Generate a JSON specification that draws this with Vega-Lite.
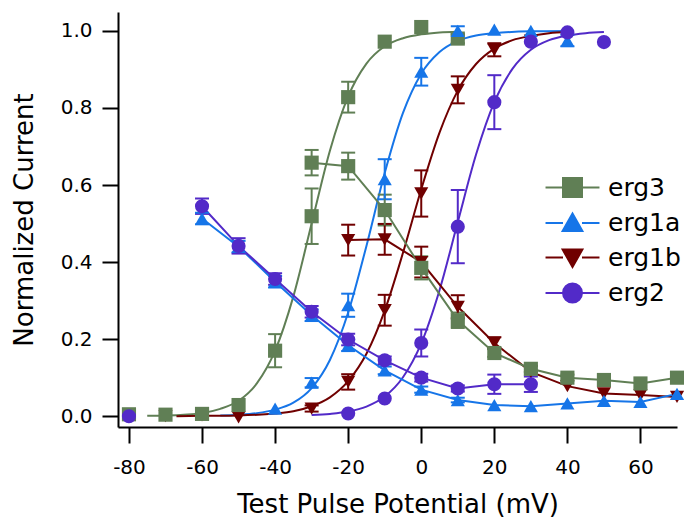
{
  "$schema": "https://vega.github.io/schema/vega-lite/v6.json",
  "width": 559,
  "height": 415,
  "autosize": {"type": "none"},
  "padding": {"left": 118, "top": 12, "right": 7, "bottom": 92},
  "background": "white",
  "config": {
    "view": {"stroke": null},
    "font": "DejaVu Sans",
    "axis": {
      "grid": false,
      "domainColor": "black",
      "domainWidth": 2,
      "tickColor": "black",
      "tickWidth": 2,
      "tickSize": 16,
      "labelFont": "DejaVu Sans",
      "labelFontSize": 20,
      "labelColor": "black",
      "titleFont": "DejaVu Sans",
      "titleFontSize": 26,
      "titleFontWeight": "normal",
      "titleColor": "black"
    },
    "legend": {
      "orient": "none",
      "legendX": 442,
      "legendY": 163,
      "padding": 0,
      "labelFont": "DejaVu Sans",
      "labelFontSize": 25,
      "labelColor": "black",
      "labelOffset": 23,
      "rowPadding": 8.5,
      "symbolSize": 361,
      "symbolStrokeWidth": 2,
      "symbolOpacity": 1
    }
  },
  "datasets": {
    "fits": [
      {"series": "erg3", "v": -75, "i": 0.001}, {"series": "erg3", "v": -70, "i": 0.002},
      {"series": "erg3", "v": -65, "i": 0.004}, {"series": "erg3", "v": -60, "i": 0.008},
      {"series": "erg3", "v": -55, "i": 0.019}, {"series": "erg3", "v": -50, "i": 0.04},
      {"series": "erg3", "v": -45, "i": 0.085}, {"series": "erg3", "v": -40, "i": 0.17},
      {"series": "erg3", "v": -35, "i": 0.311}, {"series": "erg3", "v": -30, "i": 0.5},
      {"series": "erg3", "v": -25, "i": 0.689}, {"series": "erg3", "v": -20, "i": 0.83},
      {"series": "erg3", "v": -15, "i": 0.915}, {"series": "erg3", "v": -10, "i": 0.96},
      {"series": "erg3", "v": -5, "i": 0.981}, {"series": "erg3", "v": 0, "i": 0.991},
      {"series": "erg3", "v": 5, "i": 0.996}, {"series": "erg3", "v": 10, "i": 0.998},

      {"series": "erg1a", "v": -55, "i": 0.002}, {"series": "erg1a", "v": -50, "i": 0.004},
      {"series": "erg1a", "v": -45, "i": 0.008}, {"series": "erg1a", "v": -40, "i": 0.017},
      {"series": "erg1a", "v": -35, "i": 0.035}, {"series": "erg1a", "v": -30, "i": 0.073},
      {"series": "erg1a", "v": -25, "i": 0.146}, {"series": "erg1a", "v": -20, "i": 0.269},
      {"series": "erg1a", "v": -15, "i": 0.442}, {"series": "erg1a", "v": -10, "i": 0.631},
      {"series": "erg1a", "v": -5, "i": 0.787}, {"series": "erg1a", "v": 0, "i": 0.889},
      {"series": "erg1a", "v": 5, "i": 0.945}, {"series": "erg1a", "v": 10, "i": 0.974},
      {"series": "erg1a", "v": 15, "i": 0.988}, {"series": "erg1a", "v": 20, "i": 0.994},
      {"series": "erg1a", "v": 30, "i": 0.999}, {"series": "erg1a", "v": 40, "i": 1.0},

      {"series": "erg1b", "v": -67, "i": 0.0}, {"series": "erg1b", "v": -60, "i": 0.001},
      {"series": "erg1b", "v": -50, "i": 0.002}, {"series": "erg1b", "v": -40, "i": 0.007},
      {"series": "erg1b", "v": -35, "i": 0.013}, {"series": "erg1b", "v": -30, "i": 0.026},
      {"series": "erg1b", "v": -25, "i": 0.049}, {"series": "erg1b", "v": -20, "i": 0.091},
      {"series": "erg1b", "v": -15, "i": 0.162}, {"series": "erg1b", "v": -10, "i": 0.274},
      {"series": "erg1b", "v": -5, "i": 0.424}, {"series": "erg1b", "v": 0, "i": 0.589},
      {"series": "erg1b", "v": 5, "i": 0.736}, {"series": "erg1b", "v": 10, "i": 0.845},
      {"series": "erg1b", "v": 15, "i": 0.914}, {"series": "erg1b", "v": 20, "i": 0.954},
      {"series": "erg1b", "v": 25, "i": 0.976}, {"series": "erg1b", "v": 30, "i": 0.987},
      {"series": "erg1b", "v": 35, "i": 0.994}, {"series": "erg1b", "v": 40, "i": 0.997},

      {"series": "erg2", "v": -30, "i": 0.003}, {"series": "erg2", "v": -25, "i": 0.006},
      {"series": "erg2", "v": -20, "i": 0.012}, {"series": "erg2", "v": -15, "i": 0.025},
      {"series": "erg2", "v": -10, "i": 0.051}, {"series": "erg2", "v": -5, "i": 0.101},
      {"series": "erg2", "v": 0, "i": 0.189}, {"series": "erg2", "v": 5, "i": 0.327},
      {"series": "erg2", "v": 10, "i": 0.504}, {"series": "erg2", "v": 15, "i": 0.679},
      {"series": "erg2", "v": 20, "i": 0.815}, {"series": "erg2", "v": 25, "i": 0.902},
      {"series": "erg2", "v": 30, "i": 0.951}, {"series": "erg2", "v": 35, "i": 0.976},
      {"series": "erg2", "v": 40, "i": 0.988}, {"series": "erg2", "v": 45, "i": 0.994},
      {"series": "erg2", "v": 50, "i": 0.997}
    ],
    "obs": [
      {"series": "erg1b", "set": "act", "v": -80, "i": 0.005, "err": 0},
      {"series": "erg1b", "set": "act", "v": -70, "i": 0.0, "err": 0},
      {"series": "erg1b", "set": "act", "v": -60, "i": 0.002, "err": 0},
      {"series": "erg1b", "set": "act", "v": -50, "i": -0.003, "err": 0},
      {"series": "erg1b", "set": "act", "v": -30, "i": 0.02, "err": 0.008},
      {"series": "erg1b", "set": "act", "v": -20, "i": 0.089, "err": 0.02},
      {"series": "erg1b", "set": "act", "v": -10, "i": 0.275, "err": 0.04},
      {"series": "erg1b", "set": "act", "v": 0, "i": 0.578, "err": 0.06},
      {"series": "erg1b", "set": "act", "v": 10, "i": 0.847, "err": 0.035},
      {"series": "erg1b", "set": "act", "v": 20, "i": 0.951, "err": 0.017},
      {"series": "erg1b", "set": "act", "v": 30, "i": 0.975, "err": 0},
      {"series": "erg1b", "set": "inact", "v": -20, "i": 0.457, "err": 0.04},
      {"series": "erg1b", "set": "inact", "v": -10, "i": 0.459, "err": 0.04},
      {"series": "erg1b", "set": "inact", "v": 0, "i": 0.4, "err": 0.04},
      {"series": "erg1b", "set": "inact", "v": 10, "i": 0.284, "err": 0.03},
      {"series": "erg1b", "set": "inact", "v": 20, "i": 0.19, "err": 0.015},
      {"series": "erg1b", "set": "inact", "v": 30, "i": 0.115, "err": 0},
      {"series": "erg1b", "set": "inact", "v": 40, "i": 0.078, "err": 0},
      {"series": "erg1b", "set": "inact", "v": 50, "i": 0.059, "err": 0},
      {"series": "erg1b", "set": "inact", "v": 60, "i": 0.055, "err": 0},
      {"series": "erg1b", "set": "inact", "v": 70, "i": 0.05, "err": 0},

      {"series": "erg3", "set": "act", "v": -80, "i": 0.005, "err": 0},
      {"series": "erg3", "set": "act", "v": -70, "i": 0.004, "err": 0},
      {"series": "erg3", "set": "act", "v": -60, "i": 0.006, "err": 0},
      {"series": "erg3", "set": "act", "v": -50, "i": 0.029, "err": 0},
      {"series": "erg3", "set": "act", "v": -40, "i": 0.17, "err": 0.043},
      {"series": "erg3", "set": "act", "v": -30, "i": 0.519, "err": 0.072},
      {"series": "erg3", "set": "act", "v": -20, "i": 0.828, "err": 0.04},
      {"series": "erg3", "set": "act", "v": -10, "i": 0.972, "err": 0},
      {"series": "erg3", "set": "act", "v": 0, "i": 1.01, "err": 0},
      {"series": "erg3", "set": "act", "v": 10, "i": 0.98, "err": 0.012},
      {"series": "erg3", "set": "inact", "v": -30, "i": 0.658, "err": 0.033},
      {"series": "erg3", "set": "inact", "v": -20, "i": 0.649, "err": 0.035},
      {"series": "erg3", "set": "inact", "v": -10, "i": 0.535, "err": 0.04},
      {"series": "erg3", "set": "inact", "v": 0, "i": 0.385, "err": 0.03},
      {"series": "erg3", "set": "inact", "v": 10, "i": 0.249, "err": 0.02},
      {"series": "erg3", "set": "inact", "v": 20, "i": 0.164, "err": 0.01},
      {"series": "erg3", "set": "inact", "v": 30, "i": 0.123, "err": 0.008},
      {"series": "erg3", "set": "inact", "v": 40, "i": 0.1, "err": 0.008},
      {"series": "erg3", "set": "inact", "v": 50, "i": 0.094, "err": 0},
      {"series": "erg3", "set": "inact", "v": 60, "i": 0.085, "err": 0},
      {"series": "erg3", "set": "inact", "v": 70, "i": 0.1, "err": 0},

      {"series": "erg1a", "set": "act", "v": -40, "i": 0.02, "err": 0},
      {"series": "erg1a", "set": "act", "v": -30, "i": 0.087, "err": 0.012},
      {"series": "erg1a", "set": "act", "v": -20, "i": 0.288, "err": 0.03},
      {"series": "erg1a", "set": "act", "v": -10, "i": 0.615, "err": 0.052},
      {"series": "erg1a", "set": "act", "v": 0, "i": 0.894, "err": 0.036},
      {"series": "erg1a", "set": "act", "v": 10, "i": 1.0, "err": 0.012},
      {"series": "erg1a", "set": "act", "v": 20, "i": 1.003, "err": 0},
      {"series": "erg1a", "set": "act", "v": 30, "i": 1.0, "err": 0},
      {"series": "erg1a", "set": "act", "v": 40, "i": 0.975, "err": 0.015},
      {"series": "erg1a", "set": "inact", "v": -60, "i": 0.513, "err": 0.015},
      {"series": "erg1a", "set": "inact", "v": -50, "i": 0.44, "err": 0.015},
      {"series": "erg1a", "set": "inact", "v": -40, "i": 0.349, "err": 0.015},
      {"series": "erg1a", "set": "inact", "v": -30, "i": 0.262, "err": 0.015},
      {"series": "erg1a", "set": "inact", "v": -20, "i": 0.184, "err": 0.015},
      {"series": "erg1a", "set": "inact", "v": -10, "i": 0.119, "err": 0.01},
      {"series": "erg1a", "set": "inact", "v": 0, "i": 0.069, "err": 0.008},
      {"series": "erg1a", "set": "inact", "v": 10, "i": 0.042, "err": 0.006},
      {"series": "erg1a", "set": "inact", "v": 20, "i": 0.029, "err": 0},
      {"series": "erg1a", "set": "inact", "v": 30, "i": 0.026, "err": 0},
      {"series": "erg1a", "set": "inact", "v": 40, "i": 0.033, "err": 0},
      {"series": "erg1a", "set": "inact", "v": 50, "i": 0.04, "err": 0},
      {"series": "erg1a", "set": "inact", "v": 60, "i": 0.037, "err": 0},
      {"series": "erg1a", "set": "inact", "v": 70, "i": 0.058, "err": 0},

      {"series": "erg2", "set": "act", "v": -80, "i": 0.0, "err": 0},
      {"series": "erg2", "set": "act", "v": -20, "i": 0.007, "err": 0},
      {"series": "erg2", "set": "act", "v": -10, "i": 0.046, "err": 0},
      {"series": "erg2", "set": "act", "v": 0, "i": 0.19, "err": 0.035},
      {"series": "erg2", "set": "act", "v": 10, "i": 0.492, "err": 0.095},
      {"series": "erg2", "set": "act", "v": 20, "i": 0.815, "err": 0.07},
      {"series": "erg2", "set": "act", "v": 30, "i": 0.972, "err": 0},
      {"series": "erg2", "set": "act", "v": 40, "i": 0.996, "err": 0},
      {"series": "erg2", "set": "act", "v": 50, "i": 0.971, "err": 0},
      {"series": "erg2", "set": "inact", "v": -60, "i": 0.545, "err": 0.02},
      {"series": "erg2", "set": "inact", "v": -50, "i": 0.442, "err": 0.02},
      {"series": "erg2", "set": "inact", "v": -40, "i": 0.356, "err": 0.015},
      {"series": "erg2", "set": "inact", "v": -30, "i": 0.271, "err": 0.015},
      {"series": "erg2", "set": "inact", "v": -20, "i": 0.199, "err": 0.015},
      {"series": "erg2", "set": "inact", "v": -10, "i": 0.145, "err": 0.01},
      {"series": "erg2", "set": "inact", "v": 0, "i": 0.1, "err": 0.01},
      {"series": "erg2", "set": "inact", "v": 10, "i": 0.072, "err": 0.008},
      {"series": "erg2", "set": "inact", "v": 20, "i": 0.083, "err": 0.025},
      {"series": "erg2", "set": "inact", "v": 30, "i": 0.083, "err": 0.02}
    ]
  },
  "encoding": {
    "x": {
      "field": "v",
      "type": "quantitative",
      "title": "Test Pulse Potential (mV)",
      "scale": {"domain": [-83, 70], "nice": false, "zero": false},
      "axis": {
        "values": [-80, -60, -40, -20, 0, 20, 40, 60],
        "labelExpr": "replace(datum.label, '−', '-')",
        "labelPadding": 14,
        "titlePadding": 14
      }
    },
    "y": {
      "field": "i",
      "type": "quantitative",
      "title": "Normalized Current",
      "scale": {"domain": [-0.028, 1.049], "nice": false, "zero": false},
      "axis": {"values": [0, 0.2, 0.4, 0.6, 0.8, 1.0], "format": ".1f", "labelPadding": 10, "titlePadding": 23}
    }
  },
  "layer": [
    {
      "encoding": {
        "color": {
          "field": "series",
          "type": "nominal",
          "legend": null,
          "scale": {
            "domain": ["erg2", "erg1b", "erg1a", "erg3"],
            "range": ["#522ac8", "#700000", "#1675e8", "#607f55"]
          }
        }
      },
      "layer": [
        {
          "data": {"name": "fits"},
          "mark": {"type": "line", "strokeWidth": 2, "interpolate": "monotone"}
        },
        {
          "data": {"name": "obs"},
          "transform": [{"filter": "datum.set === 'inact'"}],
          "mark": {"type": "line", "strokeWidth": 2}
        },
        {
          "data": {"name": "obs"},
          "transform": [{"filter": "datum.err > 0"}],
          "mark": {"type": "errorbar", "thickness": 2, "ticks": {"size": 14, "opacity": 1}},
          "encoding": {
            "yError": {"field": "err"},
            "detail": {"field": "set"}
          }
        },
        {
          "data": {"name": "obs"},
          "transform": [{"filter": "datum.series === 'erg1b'"}],
          "mark": {"type": "point", "shape": "triangle-down", "filled": true, "opacity": 1, "size": 200}
        },
        {
          "data": {"name": "obs"},
          "transform": [{"filter": "datum.series === 'erg3'"}],
          "mark": {"type": "point", "shape": "square", "filled": true, "opacity": 1, "size": 200}
        },
        {
          "data": {"name": "obs"},
          "transform": [{"filter": "datum.series === 'erg1a'"}],
          "mark": {"type": "point", "shape": "triangle-up", "filled": true, "opacity": 1, "size": 200}
        },
        {
          "data": {"name": "obs"},
          "transform": [{"filter": "datum.series === 'erg2'"}],
          "mark": {"type": "point", "shape": "circle", "filled": true, "opacity": 1, "size": 200}
        }
      ]
    },
    {
      "data": {"name": "obs"},
      "transform": [{"filter": "datum.v > 999"}],
      "mark": {"type": "point", "filled": true, "opacity": 1, "strokeWidth": 2, "size": 361},
      "encoding": {
        "fill": {
          "field": "series",
          "type": "nominal",
          "title": null,
          "scale": {
            "domain": ["erg3", "erg1a", "erg1b", "erg2"],
            "range": ["#607f55", "#1675e8", "#700000", "#522ac8"]
          }
        },
        "stroke": {
          "field": "series",
          "type": "nominal",
          "title": null,
          "scale": {
            "domain": ["erg3", "erg1a", "erg1b", "erg2"],
            "range": ["#607f55", "#1675e8", "#700000", "#522ac8"]
          }
        },
        "shape": {
          "field": "series",
          "type": "nominal",
          "title": null,
          "scale": {
            "domain": ["erg3", "erg1a", "erg1b", "erg2"],
            "range": [
              "M-2.84,0H-1M1,0H2.84M-1,-1H1V1H-1Z",
              "M-2.84,0H-1M1,0H2.84M0,-1L1.04,0.84H-1.04Z",
              "M-2.84,0H-1M1,0H2.84M-1.04,-0.84H1.04L0,1Z",
              "M-2.84,0H-1M1,0H2.84M-1,0A1,1 0 1,0 1,0A1,1 0 1,0 -1,0Z"
            ]
          }
        }
      }
    }
  ]
}
